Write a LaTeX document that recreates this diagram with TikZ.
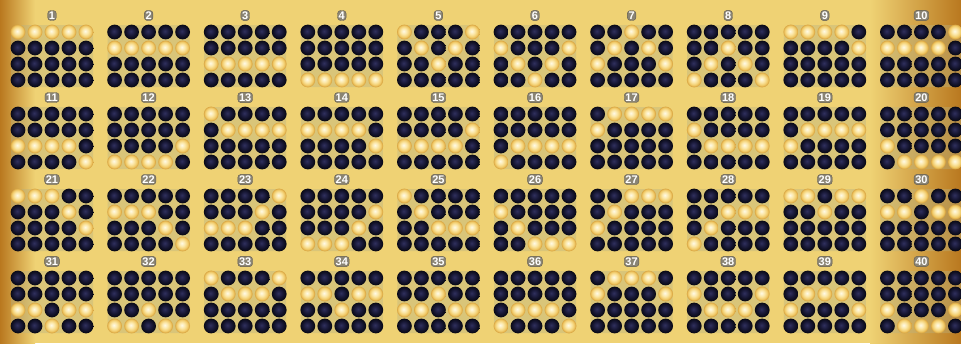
\documentclass[tikz,border=0pt]{standalone}
\usepackage{fontspec}
\setmainfont{Liberation Sans}
\definecolor{bglight}{HTML}{EFD274}
\definecolor{bgedge}{HTML}{B9781F}
\definecolor{goldin}{HTML}{FFFAE6}
\definecolor{goldmid}{HTML}{FBE7A8}
\definecolor{goldrim}{HTML}{F2CC6A}
\definecolor{goldout}{HTML}{D6A03C}
\definecolor{darkin}{HTML}{30305E}
\definecolor{darkmid}{HTML}{171734}
\definecolor{darkout}{HTML}{080812}
\definecolor{lblgray}{HTML}{8A8474}
\definecolor{glowc}{HTML}{B8B282}
\pgfdeclareradialshading{goldsh}{\pgfpoint{-3bp}{3bp}}{color(0bp)=(goldin); color(10bp)=(goldmid); color(19bp)=(goldrim); color(25bp)=(goldout); color(50bp)=(goldout)}
\pgfdeclareradialshading{darksh}{\pgfpoint{-3bp}{3bp}}{color(0bp)=(darkin); color(14bp)=(darkmid); color(25bp)=(darkout); color(50bp)=(darkout)}
\tikzset{
  darkball/.style={shading=darksh},
  goldb/.style={shading=goldsh},
  lbl/.style={fill=lblgray, draw=lblgray!70!black, rounded corners=3pt, inner sep=1.2pt, text=white, font=\bfseries\fontsize{11}{11}\selectfont},
  glow/.style={fill=glowc, opacity=0.4, rounded corners=7pt}
}
\begin{document}
\begin{tikzpicture}[x=1pt,y=-1pt]
\useasboundingbox (0,0) rectangle (961,343);
\fill[bglight] (0,0) rectangle (961,343);
\shade[left color=bgedge, right color=bglight] (0,0) rectangle (35,343);
\shade[left color=bglight, right color=bgedge] (870,0) rectangle (961,343);
\foreach \n/\a/\b/\c/\d/\e in {
 1/0/0/0/0/0, 2/1/1/1/1/1, 3/2/2/2/2/2, 4/3/3/3/3/3, 5/0/1/2/1/0,
 6/1/2/3/2/1, 7/2/1/0/1/2, 8/3/2/1/2/3, 9/0/0/0/0/1, 10/1/1/1/1/0,
 11/2/2/2/2/3, 12/3/3/3/3/2, 13/0/1/1/1/1, 14/1/1/1/1/2, 15/2/2/2/2/1,
 16/3/2/2/2/2, 17/1/0/0/0/0, 18/1/2/2/2/2, 19/2/1/1/1/1, 20/2/3/3/3/3,
 21/0/0/0/1/2, 22/1/1/1/2/3, 23/2/2/2/1/0, 24/3/3/3/2/1, 25/0/1/2/2/2,
 26/1/2/3/3/3, 27/2/1/0/0/0, 28/3/2/1/1/1, 29/0/0/1/0/0, 30/1/1/0/1/1,
 31/2/2/3/2/2, 32/3/3/2/3/3, 33/0/1/1/1/0, 34/1/1/2/1/1, 35/2/2/1/2/2,
 36/3/2/2/2/3, 37/1/0/0/0/1, 38/1/2/2/2/1, 39/2/1/1/1/2, 40/2/3/3/3/2}{
  \pgfmathtruncatemacro{\bc}{mod(\n-1,10)}
  \pgfmathtruncatemacro{\br}{div(\n-1,10)}
  \pgfmathsetmacro{\xo}{18+96.6*\bc}
  \pgfmathsetmacro{\yo}{32+82*\br}
  \fill[glow] (\xo-7,\yo-7) rectangle (\xo+75,\yo+55);
  \node[lbl] (lbl\n) at (\xo+34,\yo-16.5) {\n};
  \foreach \col/\g in {0/\a,1/\b,2/\c,3/\d,4/\e}{
    \foreach \row in {0,1,2,3}{
      \ifnum\row=\g\relax
        \shade[goldb] (\xo+17*\col,\yo+16*\row) circle (7.4);
      \else
        \shade[darkball] (\xo+17*\col,\yo+16*\row) circle (7.4);
      \fi
    }
  }
}
\end{tikzpicture}
\end{document}
